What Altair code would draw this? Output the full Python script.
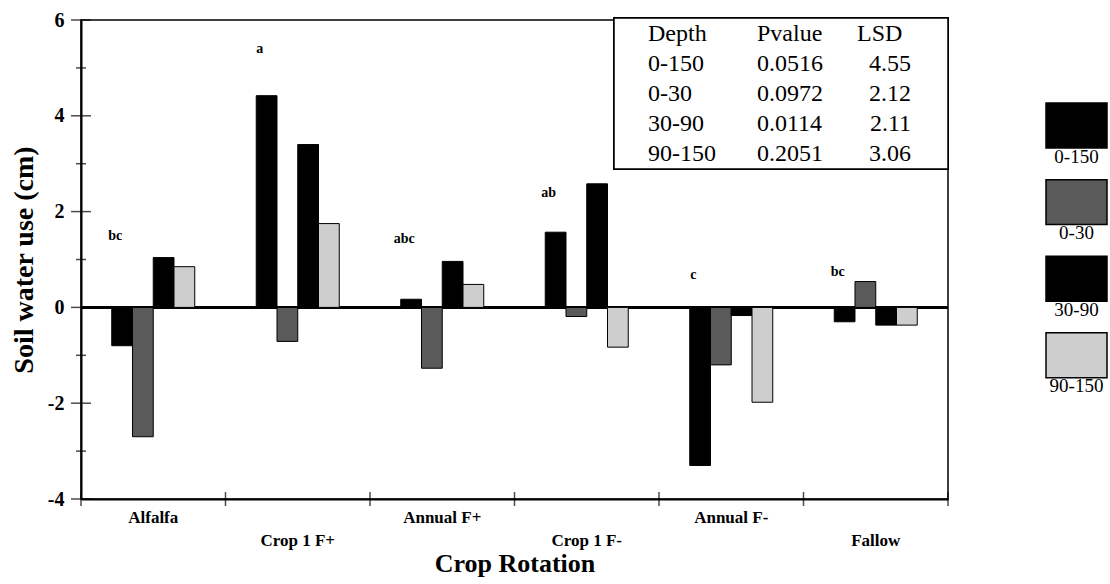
import altair as alt
import pandas as pd

# ---- data -------------------------------------------------------------
crops = ["Alfalfa", "Crop 1 F+", "Annual F+", "Crop 1 F-", "Annual F-", "Fallow"]
depths = ["0-150", "0-30", "30-90", "90-150"]

# soil water use (cm) per rotation, one list per depth interval
use_0_150 = [-0.80, 4.42, 0.17, 1.57, -3.30, -0.30]
use_0_30 = [-2.70, -0.71, -1.27, -0.19, -1.20, 0.54]
use_30_90 = [1.04, 3.40, 0.96, 2.58, -0.17, -0.37]
use_90_150 = [0.85, 1.75, 0.48, -0.83, -1.98, -0.37]

# mean-separation letters for the 0-150 cm profile and their heights
letters = ["bc", "a", "abc", "ab", "c", "bc"]
letter_y = [1.50, 5.40, 1.42, 2.38, 0.67, 0.73]

# ANOVA summary table
table_head = ["Depth", "Pvalue", "LSD"]
table_depths = ["0-150", "0-30", "30-90", "90-150"]
table_p = ["0.0516", "0.0972", "0.0114", "0.2051"]
table_lsd = ["4.55", "2.12", "2.11", "3.06"]

# y axis tick positions
y_major = [-4, -2, 0, 2, 4, 6]
y_minor = [-3, -1, 1, 3, 5]

# ---- styling ----------------------------------------------------------
SERIF = "Liberation Serif"
W, H = 867, 479
STEP = W / len(crops)
GROUP_FRAC = 0.4256  # share of each rotation slot left empty around its bar group
fills = ["#000000", "#5a5a5a", "#000000", "#cecece"]
color_scale = alt.Scale(domain=depths, range=fills)

bar_df = pd.DataFrame(
    [
        {"crop": c, "depth": d, "use": v}
        for d, vals in zip(depths, [use_0_150, use_0_30, use_30_90, use_90_150])
        for c, v in zip(crops, vals)
    ]
)
letter_df = pd.DataFrame({"crop": crops, "letter": letters, "ly": letter_y})
major_df = pd.DataFrame({"v": y_major})
minor_df = pd.DataFrame({"v": y_minor})
edge_df = pd.DataFrame({"crop": crops})
last_df = pd.DataFrame({"crop": crops[-1:]})

second_row = "indexof(%s, datum.value) %% 2 == 1" % str(crops)
x_axis = alt.Axis(
    labelAngle=0,
    ticks=False,
    domainColor="black",
    domainWidth=2,
    labelFont=SERIF,
    labelFontSize=17,
    labelFontWeight="bold",
    labelColor="black",
    labelBaseline="top",
    labelPadding=10,
    labelLineHeight=23,
    labelExpr=f"{second_row} ? ['', datum.value] : datum.value",
    titleFont=SERIF,
    titleFontSize=26,
    titleFontWeight="bold",
    titleColor="black",
    titlePadding=2,
)
y_axis = alt.Axis(
    values=y_major,
    ticks=False,
    grid=False,
    domainColor="black",
    domainWidth=2,
    labelFont=SERIF,
    labelFontSize=20,
    labelFontWeight="bold",
    labelColor="black",
    labelPadding=17,
    labelExpr="datum.value < 0 ? '-' + abs(datum.value) : '' + datum.value",
    titleFont=SERIF,
    titleFontSize=28,
    titleFontWeight="bold",
    titleColor="black",
    titlePadding=9,
)
y_scale = alt.Scale(domain=[-4, 6], nice=False, zero=False)
x_scale = alt.Scale(paddingInner=GROUP_FRAC, paddingOuter=GROUP_FRAC / 2)


def x_enc(**kw):
    return alt.X("crop:N", sort=crops, title="Crop Rotation", scale=x_scale, axis=x_axis, **kw)


def y_enc(field):
    return alt.Y(field, title="Soil water use (cm)", scale=y_scale, axis=y_axis)


bars = alt.Chart(bar_df).mark_bar(stroke="black", strokeWidth=1).encode(
    x=x_enc(),
    xOffset=alt.XOffset("depth:N", sort=depths, scale=alt.Scale(paddingInner=0, paddingOuter=0)),
    y=y_enc("use:Q"),
    fill=alt.Fill("depth:N", scale=color_scale, legend=None),
)

zero = alt.Chart(bar_df).mark_rule(color="black", strokeWidth=1.5).encode(y=alt.datum(0))

letter_marks = alt.Chart(letter_df).mark_text(
    font=SERIF, fontSize=14, fontWeight="bold", color="black", xOffset=-38
).encode(x=x_enc(), y=y_enc("ly:Q"), text="letter:N")

major_ticks = alt.Chart(major_df).mark_tick(
    orient="horizontal", color="black", size=20, thickness=1.5
).encode(y=y_enc("v:Q"), x=alt.value(0))
minor_ticks = alt.Chart(minor_df).mark_tick(
    orient="horizontal", color="black", size=10, thickness=1.5
).encode(y=y_enc("v:Q"), x=alt.value(0))

# rotation boundaries on the x axis: half a slot either side of each centre
edge_ticks = alt.Chart(edge_df).mark_tick(
    orient="vertical", color="black", size=14, thickness=1.5, xOffset=-STEP / 2
).encode(x=x_enc(), y=alt.datum(-4))
last_tick = alt.Chart(last_df).mark_tick(
    orient="vertical", color="black", size=14, thickness=1.5, xOffset=STEP / 2
).encode(x=x_enc(), y=alt.datum(-4))

plot_layers = alt.layer(zero, bars, letter_marks, major_ticks, minor_ticks, edge_ticks, last_tick)

# ---- summary table in the upper right corner ----------------------------
rows = list(range(len(table_depths) + 1))
tbl_df = pd.DataFrame(
    {
        "row": rows,
        "depth": [table_head[0]] + table_depths,
        "p": [table_head[1]] + table_p,
        "lsd_head": [table_head[2]] + [""] * len(table_lsd),
        "lsd": [""] + table_lsd,
    }
)
row_y = alt.Y("row:O", axis=None, scale=alt.Scale(range=[14, 134], padding=0))
txt = dict(font=SERIF, fontSize=24, color="black", baseline="middle")

table_box = alt.Chart(tbl_df).mark_rect(fill="white", stroke="black", strokeWidth=1.5).encode(
    x=alt.value(533), x2=alt.value(867), y=alt.value(-2), y2=alt.value(149)
)
col_depth = alt.Chart(tbl_df).mark_text(align="left", **txt).encode(
    x=alt.value(567), y=row_y, text="depth:N"
)
col_p = alt.Chart(tbl_df).mark_text(align="left", **txt).encode(
    x=alt.value(676), y=row_y, text="p:N"
)
col_lsd_head = alt.Chart(tbl_df).mark_text(align="left", **txt).encode(
    x=alt.value(776), y=row_y, text="lsd_head:N"
)
col_lsd = alt.Chart(tbl_df).mark_text(align="right", **txt).encode(
    x=alt.value(830), y=row_y, text="lsd:N"
)
table_layers = alt.layer(table_box, col_depth, col_p, col_lsd_head, col_lsd)

main = (
    alt.layer(plot_layers, table_layers)
    .resolve_scale(x="independent", y="independent")
    .properties(width=W, height=H, view=alt.ViewBackground(stroke="black", strokeWidth=1.5))
)

# ---- legend: swatches with their labels underneath ----------------------
LEG_H = 428
leg_df = pd.DataFrame({"depth": depths})
leg_y = alt.Y(
    "depth:N",
    sort=depths,
    axis=None,
    scale=alt.Scale(paddingInner=0.413, paddingOuter=1, align=0.542),
)
swatches = alt.Chart(leg_df).mark_rect(stroke="black", strokeWidth=1.5).encode(
    y=leg_y,
    x=alt.value(0),
    x2=alt.value(61),
    fill=alt.Fill("depth:N", scale=color_scale, legend=None),
)
swatch_labels = alt.Chart(leg_df).mark_text(
    font=SERIF, fontSize=19, color="black", yOffset=31
).encode(y=leg_y, x=alt.value(30.5), text="depth:N")
legend = alt.layer(swatches, swatch_labels).properties(width=61, height=LEG_H)

chart = (
    alt.hconcat(main, legend, spacing=98, bounds="flush")
    .properties(padding={"left": 9, "top": 9, "right": 0, "bottom": 0}, background="white")
    .configure_view(stroke=None)
)

chart.save("out.html", embed_options={"renderer": "svg", "actions": False})
